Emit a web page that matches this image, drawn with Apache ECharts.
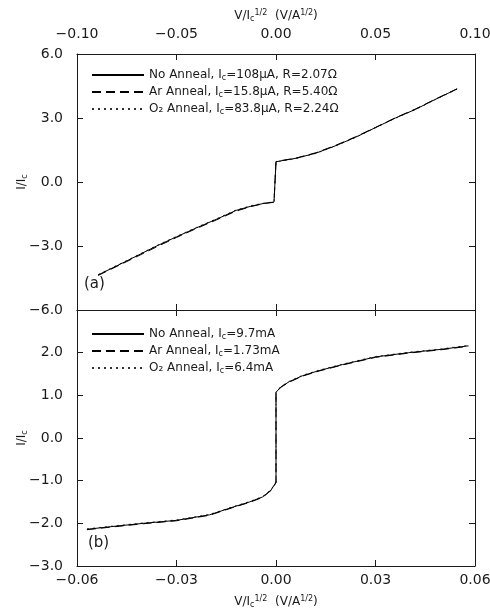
<!DOCTYPE html>
<html>
<head>
<meta charset="utf-8">
<script src="https://cdn.jsdelivr.net/npm/echarts@6/dist/echarts.min.js"></script>
<style>
  html, body { margin: 0; padding: 0; background: #fff; }
  #chart { width: 490px; height: 615px; }
</style>
</head>
<body>
<div id="chart"></div>
<script>
// (a) normalized V/Ic^1/2 vs I/Ic, small junctions
const topV = [-0.0894, -0.075, -0.06, -0.05, -0.04, -0.03, -0.02, -0.012, -0.006, -0.001, 0.0, 0.0, 0.003, 0.01, 0.02, 0.03, 0.04, 0.05, 0.06, 0.07, 0.08, 0.091];
const topNoAnneal = [-4.36, -3.70, -3.00, -2.57, -2.15, -1.75, -1.33, -1.12, -1.00, -0.94, -0.92, 0.95, 1.00, 1.11, 1.35, 1.70, 2.10, 2.55, 3.00, 3.40, 3.87, 4.36];
const topAr = [-4.38, -3.73, -3.04, -2.60, -2.18, -1.78, -1.36, -1.14, -1.01, -0.95, -0.93, 0.96, 1.01, 1.12, 1.37, 1.72, 2.12, 2.56, 3.01, 3.42, 3.88, 4.37];
const topO2 = [-4.34, -3.68, -2.98, -2.55, -2.13, -1.73, -1.31, -1.10, -0.99, -0.93, -0.91, 0.94, 0.99, 1.10, 1.34, 1.69, 2.09, 2.54, 2.99, 3.39, 3.86, 4.35];

// (b) larger junctions
const botV = [-0.057, -0.05, -0.04, -0.03, -0.02, -0.013, -0.008, -0.004, -0.0015, 0.0, 0.0, 0.0015, 0.004, 0.008, 0.013, 0.02, 0.03, 0.04, 0.05, 0.058];
const botNoAnneal = [-2.14, -2.08, -2.00, -1.93, -1.80, -1.62, -1.50, -1.38, -1.22, -1.04, 1.07, 1.20, 1.32, 1.46, 1.58, 1.72, 1.90, 2.00, 2.08, 2.16];
const botAr = [-2.15, -2.09, -2.01, -1.94, -1.81, -1.63, -1.51, -1.39, -1.23, -1.05, 1.06, 1.19, 1.31, 1.45, 1.57, 1.71, 1.89, 1.99, 2.07, 2.15];
const botO2 = [-2.13, -2.07, -1.99, -1.92, -1.79, -1.61, -1.49, -1.37, -1.21, -1.03, 1.08, 1.21, 1.33, 1.47, 1.59, 1.73, 1.91, 2.01, 2.09, 2.17];

const topNames = ['No Anneal, Ic=108μA, R=2.07Ω', 'Ar Anneal, Ic=15.8μA, R=5.40Ω', 'O₂ Anneal, Ic=83.8μA, R=2.24Ω'];
const botNames = ['No Anneal, Ic=9.7mA', 'Ar Anneal, Ic=1.73mA', 'O₂ Anneal, Ic=6.4mA'];

const font = 'DejaVu Sans';
const ink = '#1a1a1a';
const pairs = (xs, ys) => xs.map((x, i) => [x, ys[i]]);
const minus = (v, d) => v.toFixed(d).replace('-', '−');
const legendRich = {
  t: { fontFamily: font, fontSize: 12, color: ink },
  s: { fontFamily: font, fontSize: 8, color: ink, verticalAlign: 'bottom', padding: [6, 0, 0, 0] }
};
const subC = name => name.split('Ic').map(p => '{t|' + p + '}').join('{t|I}{s|c}');
const axisName = '{t|V/I}{s|c}{p|1/2}{t|  (V/A}{p|1/2}{t|)}';
const nameRich = {
  t: { fontFamily: font, fontSize: 12, color: ink },
  s: { fontFamily: font, fontSize: 8, color: ink, verticalAlign: 'bottom', padding: [6, 0, 0, 0] },
  p: { fontFamily: font, fontSize: 8, color: ink, verticalAlign: 'top', padding: [0, 0, 6, 0] }
};
const yName = '{t|I/I}{s|c}';

const lineStyles = [
  { color: '#000', width: 1, type: 'solid' },
  { color: '#000', width: 1, type: [9, 5] },
  { color: '#333', width: 1, type: [2, 4] }
];

function mkSeries(names, ys, xs, xi, yi) {
  return names.map((n, i) => ({
    name: n,
    type: 'line',
    xAxisIndex: xi,
    yAxisIndex: yi,
    symbol: 'none',
    legendIcon: 'none',
    data: pairs(xs, ys[i]),
    lineStyle: lineStyles[i],
    itemStyle: { color: lineStyles[i].color },
    z: 3 - i
  }));
}

const lineAx = { show: true, onZero: false, lineStyle: { color: ink, width: 1 } };
const tick = { show: true, inside: true, length: 6, lineStyle: { color: ink } };
const lab = { fontFamily: font, fontSize: 14, color: ink };
const legendBase = {
  orient: 'vertical', left: 86, itemGap: 4, itemWidth: 52, itemHeight: 12,
  itemStyle: { opacity: 0 },
  formatter: subC, textStyle: { rich: legendRich }
};

const option = {
  animation: false,
  backgroundColor: '#fff',
  grid: [
    { left: 77, right: 15, top: 54, height: 256, outerBoundsMode: 'none' },
    { left: 77, right: 15, top: 310, height: 256, outerBoundsMode: 'none' }
  ],
  legend: [
    { ...legendBase, data: topNames, top: 64 },
    { ...legendBase, data: botNames, top: 323 }
  ],
  xAxis: [
    {
      gridIndex: 0, type: 'value', position: 'top', min: -0.1, max: 0.1, interval: 0.05,
      axisLine: lineAx, axisTick: tick, splitLine: { show: false },
      axisLabel: { ...lab, margin: 13, formatter: v => minus(v, 2) },
      name: axisName, nameLocation: 'middle', nameGap: 31,
      nameTextStyle: { rich: nameRich }
    },
    {
      gridIndex: 0, type: 'value', position: 'bottom', min: -0.1, max: 0.1, interval: 0.05,
      axisLine: lineAx, axisTick: tick, axisLabel: { show: false }, splitLine: { show: false }
    },
    {
      gridIndex: 1, type: 'value', position: 'top', min: -0.06, max: 0.06, interval: 0.03,
      axisLine: lineAx, axisTick: tick, axisLabel: { show: false }, splitLine: { show: false }
    },
    {
      gridIndex: 1, type: 'value', position: 'bottom', min: -0.06, max: 0.06, interval: 0.03,
      axisLine: lineAx, axisTick: tick, splitLine: { show: false },
      axisLabel: { ...lab, margin: 7, formatter: v => minus(v, 2) },
      name: axisName, nameLocation: 'middle', nameGap: 29,
      nameTextStyle: { rich: nameRich }
    }
  ],
  yAxis: [
    {
      gridIndex: 0, type: 'value', position: 'left', min: -6, max: 6, interval: 3,
      axisLine: lineAx, axisTick: tick, splitLine: { show: false },
      axisLabel: { ...lab, margin: 14, formatter: v => minus(v, 1) },
      name: yName, nameLocation: 'middle', nameGap: 48, nameRotate: 90, nameMoveOverlap: false,
      nameTextStyle: { rich: nameRich }
    },
    {
      gridIndex: 0, type: 'value', position: 'right', min: -6, max: 6, interval: 3,
      axisLine: lineAx, axisTick: tick, axisLabel: { show: false }, splitLine: { show: false }
    },
    {
      gridIndex: 1, type: 'value', position: 'left', min: -3, max: 3, interval: 1,
      axisLine: lineAx, axisTick: tick, splitLine: { show: false },
      axisLabel: { ...lab, margin: 14, showMaxLabel: false, formatter: v => minus(v, 1) },
      name: yName, nameLocation: 'middle', nameGap: 48, nameRotate: 90, nameMoveOverlap: false,
      nameTextStyle: { rich: nameRich }
    },
    {
      gridIndex: 1, type: 'value', position: 'right', min: -3, max: 3, interval: 1,
      axisLine: lineAx, axisTick: tick, axisLabel: { show: false }, splitLine: { show: false }
    }
  ],
  graphic: [
    { type: 'text', left: 84, top: 277, style: { text: '(a)', font: '15px ' + font, fill: ink } },
    { type: 'text', left: 88, top: 536, style: { text: '(b)', font: '15px ' + font, fill: ink } }
  ],
  series: [
    ...mkSeries(topNames, [topNoAnneal, topAr, topO2], topV, 0, 0),
    ...mkSeries(botNames, [botNoAnneal, botAr, botO2], botV, 3, 2)
  ]
};

const chart = echarts.init(document.getElementById('chart'));
chart.setOption(option);
</script>
</body>
</html>
